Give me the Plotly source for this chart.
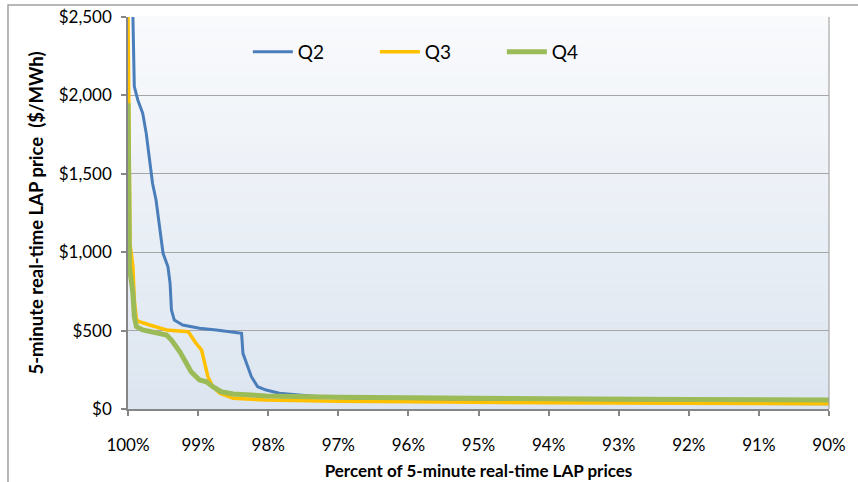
import plotly.graph_objects as go

# ---- data (percent of prices, $/MWh) ----
q2_x = [99.93, 99.91, 99.86, 99.79, 99.74, 99.69, 99.65, 99.60, 99.55, 99.50, 99.43, 99.40,
        99.38, 99.34, 99.22, 98.98, 98.74, 98.50, 98.38, 98.36, 98.31, 98.24, 98.15, 98.03,
        97.84, 97.55, 97.2, 96.0, 94.0, 92.0, 90.0]
q2_y = [2500, 2056, 1971, 1886, 1758, 1588, 1440, 1333, 1163, 993, 907, 802,
        631, 568, 536, 515, 504, 493, 483, 355, 291, 206, 142, 121,
        100, 89, 75, 55, 45, 38, 33]

q3_x = [100.0, 99.99, 99.97, 99.93, 99.91, 99.88, 99.84, 99.69, 99.45, 99.14, 99.03, 98.95,
        98.91, 98.86, 98.79, 98.69, 98.50, 98.03, 97.0, 96.0, 94.0, 92.0, 90.0]
q3_y = [2500, 1700, 1050, 907, 695, 570, 557, 536, 504, 493, 419, 376,
        291, 206, 142, 100, 68, 57, 50, 45, 40, 36, 33]

q4_x = [100.0, 99.98, 99.93, 99.91, 99.88, 99.79, 99.45, 99.38, 99.26, 99.19, 99.10, 98.98,
        98.88, 98.79, 98.67, 98.50, 98.03, 97.0, 96.0, 94.0, 92.0, 90.0]
q4_y = [1950, 907, 738, 589, 525, 504, 472, 440, 365, 302, 238, 185,
        174, 142, 110, 96, 83, 75, 70, 65, 60, 57]

x_ticks = [100, 99, 98, 97, 96, 95, 94, 93, 92, 91, 90]
y_ticks = [0, 500, 1000, 1500, 2000, 2500]

FONT = "Lato"

fig = go.Figure()
fig.add_trace(go.Scatter(x=q2_x, y=q2_y, mode="lines", name="Q2",
                         line=dict(color="#4A7EBB", width=3)))
fig.add_trace(go.Scatter(x=q3_x, y=q3_y, mode="lines", name="Q3",
                         line=dict(color="#FFC000", width=3.5)))
fig.add_trace(go.Scatter(x=q4_x, y=q4_y, mode="lines", name="Q4",
                         line=dict(color="#9BBB59", width=5)))

# gradient background bands
shapes = []
n = 40
top = (249, 250, 252)
bot = (220, 229, 240)
for i in range(n):
    t = (i + 0.5) / n
    c = tuple(round(top[k] + (bot[k] - top[k]) * t) for k in range(3))
    shapes.append(dict(type="rect", xref="x domain", yref="y domain",
                       x0=0, x1=1, y0=1 - (i + 1) / n, y1=1 - i / n + 0.001,
                       fillcolor="rgb(%d,%d,%d)" % c, line=dict(width=0), layer="below"))
# right border of plot area
shapes.append(dict(type="line", xref="x domain", yref="y domain", x0=1, x1=1, y0=0, y1=1,
                   line=dict(color="#A6A6A6", width=1.2)))
# outer chart border
shapes.append(dict(type="rect", xref="paper", yref="paper", x0=-0.1712, x1=1.06,
                   y0=-0.22, y1=1.0306, line=dict(color="#A0A0A0", width=1.5),
                   fillcolor="rgba(0,0,0,0)", layer="below"))

fig.update_layout(
    width=858, height=482,
    margin=dict(l=128, r=29, t=17, b=73, autoexpand=False),
    paper_bgcolor="white", plot_bgcolor="rgba(0,0,0,0)",
    font=dict(family=FONT, color="#000000", size=17),
    shapes=shapes,
    showlegend=True,
    legend=dict(orientation="h", x=0.171, y=0.911, xanchor="left", yanchor="middle",
                font=dict(size=19, family=FONT), bgcolor="rgba(0,0,0,0)",
                entrywidth=72, entrywidthmode="pixels", itemwidth=40,
                traceorder="normal"),
)
fig.update_xaxes(
    range=[100, 90], tickvals=x_ticks, ticktext=[f"{v}%" for v in x_ticks],
    showgrid=False, showline=True, linecolor="#868686", linewidth=1.5,
    ticks="outside", ticklen=5, tickcolor="#868686", tickwidth=1.5,
    ticklabelstandoff=15, zeroline=False, automargin=False,
    ticklabeloverflow="allow",
    title=dict(text="<b>Percent of 5-minute real-time LAP prices</b>",
               font=dict(size=17, family=FONT), standoff=11),
)
fig.update_yaxes(
    range=[0, 2500], tickvals=y_ticks,
    ticktext=["$" + format(v, ",") for v in y_ticks],
    showgrid=True, gridcolor="#A6A6A6", gridwidth=1.2,
    showline=True, linecolor="#868686", linewidth=1.5,
    ticks="outside", ticklen=5, tickcolor="#868686", tickwidth=1.5,
    ticklabelstandoff=6, zeroline=False, automargin=False,
    ticklabeloverflow="allow",
    title=dict(text="<b>5-minute real-time LAP price&nbsp; ($/MWh)</b>",
               font=dict(size=18.5, family=FONT), standoff=10),
)

fig.write_html(
    "out.html",
    config={"displayModeBar": False},
    post_script="document.body.style.margin='0';document.body.style.overflow='hidden';",
)
